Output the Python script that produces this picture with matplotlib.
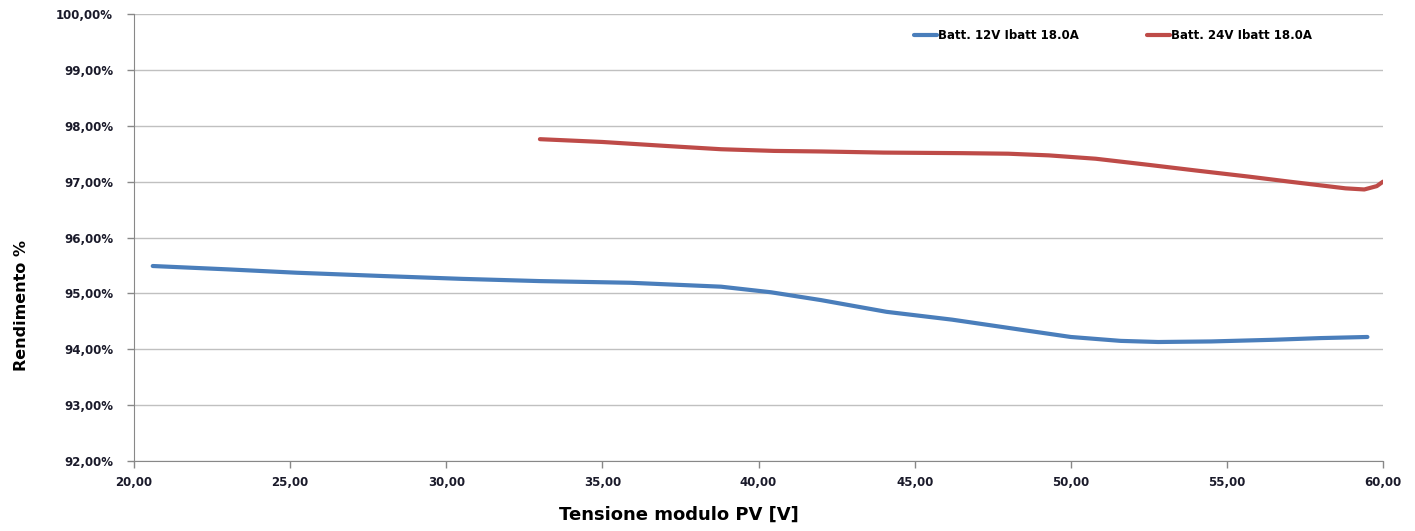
import matplotlib
matplotlib.use('Agg')
import matplotlib.pyplot as plt
from matplotlib.ticker import FuncFormatter, MultipleLocator

# Values (PV voltage [V], efficiency [%])
v_12 = [20.6, 23.0, 25.2, 28.0, 30.5, 33.0, 35.9, 38.8, 40.4, 42.0, 44.1,
        46.2, 48.4, 50.0, 51.6, 52.8, 54.5, 56.5, 58.0, 59.5]
eff_12 = [95.49, 95.43, 95.37, 95.31, 95.26, 95.22, 95.19, 95.12, 95.02, 94.88,
          94.67, 94.53, 94.35, 94.22, 94.15, 94.13, 94.14, 94.17, 94.20, 94.22]

v_24 = [33.0, 35.0, 37.0, 38.8, 40.5, 42.0, 44.0, 46.5, 48.0, 49.3, 50.8,
        52.5, 54.0, 55.7, 57.0, 57.9, 58.8, 59.4, 59.8, 60.0]
eff_24 = [97.76, 97.71, 97.64, 97.58, 97.55, 97.54, 97.52, 97.51, 97.50, 97.47, 97.41,
          97.30, 97.20, 97.09, 97.00, 96.94, 96.88, 96.86, 96.92, 97.00]

labels = ['Batt. 12V Ibatt 18.0A', 'Batt. 24V Ibatt 18.0A']
colors = ['#4a7ebb', '#be4b48']

fig = plt.figure(figsize=(14.15, 5.31), dpi=100)
ax = fig.add_axes([0.0947, 0.1318, 0.8827, 0.8418])

ax.plot(v_12, eff_12, color=colors[0], lw=3, label=labels[0], solid_capstyle='round')
ax.plot(v_24, eff_24, color=colors[1], lw=3, label=labels[1], solid_capstyle='round')

ax.set_xlim(20, 60)
ax.set_ylim(92, 100)
ax.xaxis.set_major_locator(MultipleLocator(5))
ax.yaxis.set_major_locator(MultipleLocator(1))
ax.xaxis.set_major_formatter(FuncFormatter(lambda x, p: f'{x:.2f}'.replace('.', ',')))
ax.yaxis.set_major_formatter(FuncFormatter(lambda y, p: f'{y:.2f}'.replace('.', ',') + '%'))

ax.grid(axis='y', color='#c0c0c0', lw=1)
ax.set_axisbelow(True)
for s in ['top', 'right']:
    ax.spines[s].set_visible(False)
for s in ['left', 'bottom']:
    ax.spines[s].set_color('#888888')
ax.tick_params(axis='both', colors='#888888', length=5, width=1, labelcolor='#1a1a2a',
               labelsize=8.5)
ax.tick_params(axis='y', pad=10)
ax.tick_params(axis='x', pad=6)
for t in ax.get_xticklabels() + ax.get_yticklabels():
    t.set_fontweight('bold')

ax.set_xlabel('Tensione modulo PV [V]', fontsize=13, fontweight='bold')
ax.xaxis.set_label_coords(0.436, -0.101)
ax.set_ylabel('Rendimento %', fontsize=11.5, fontweight='bold')
ax.yaxis.set_label_coords(-0.084, 0.349)

leg = ax.legend(loc='center', bbox_to_anchor=(0.784, 0.951), ncol=2, frameon=False,
                handlelength=1.9, handletextpad=0.1, columnspacing=5.8,
                prop={'weight': 'bold', 'size': 8.5})

fig.savefig('out.png', dpi=100)
